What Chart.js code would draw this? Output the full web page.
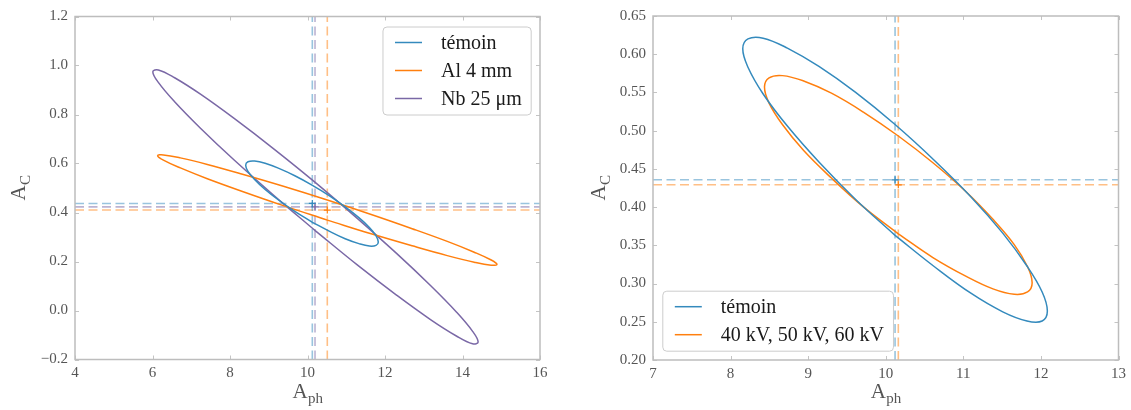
<!DOCTYPE html>
<html>
<head>
<meta charset="utf-8">
<script src="https://cdn.jsdelivr.net/npm/chart.js@4/dist/chart.umd.min.js"></script>
<style>
  html, body { margin: 0; padding: 0; background: #fff; }
  #wrap { position: relative; width: 1131px; height: 410px; }
  canvas { position: absolute; top: 0; }
</style>
</head>
<body>
<div id="wrap">
  <canvas id="left" width="565" height="410" style="left:0"></canvas>
  <canvas id="right" width="566" height="410" style="left:565px"></canvas>
</div>
<script>
// ---- left panel : témoin / Al 4 mm / Nb 25 µm ----
var labelsL = ['témoin', 'Al 4 mm', 'Nb 25 μm'];

var temoinL_x = [10.116, 9.673, 9.261, 8.906, 8.634, 8.463, 8.405, 8.463, 8.634, 8.906, 9.261, 9.673, 10.116, 10.559, 10.972, 11.326, 11.598, 11.769, 11.827, 11.769, 11.598, 11.326, 10.972, 10.559, 10.116];
var temoinL_y = [0.361, 0.405, 0.450, 0.494, 0.535, 0.568, 0.593, 0.607, 0.610, 0.601, 0.580, 0.550, 0.512, 0.469, 0.423, 0.379, 0.339, 0.305, 0.280, 0.266, 0.263, 0.273, 0.293, 0.324, 0.361];

var al_x = [10.511, 9.378, 8.322, 7.415, 6.719, 6.281, 6.132, 6.281, 6.719, 7.415, 8.322, 9.378, 10.511, 11.644, 12.701, 13.607, 14.303, 14.741, 14.890, 14.741, 14.303, 13.607, 12.701, 11.644, 10.511];
var al_y = [0.369, 0.428, 0.486, 0.538, 0.582, 0.614, 0.632, 0.635, 0.623, 0.596, 0.556, 0.507, 0.451, 0.392, 0.334, 0.282, 0.238, 0.206, 0.188, 0.185, 0.197, 0.224, 0.264, 0.313, 0.369];

var nb_x = [10.206, 9.120, 8.107, 7.238, 6.571, 6.151, 6.008, 6.151, 6.571, 7.238, 8.107, 9.120, 10.206, 11.292, 12.305, 13.174, 13.842, 14.261, 14.404, 14.261, 13.842, 13.174, 12.305, 11.292, 10.206];
var nb_y = [0.325, 0.471, 0.614, 0.744, 0.852, 0.931, 0.975, 0.982, 0.950, 0.883, 0.784, 0.661, 0.522, 0.375, 0.232, 0.102, -0.006, -0.085, -0.129, -0.136, -0.104, -0.037, 0.062, 0.185, 0.325];

// centres (témoin, Al, Nb)
var centreL_x = [10.124, 10.511, 10.194];
var centreL_y = [0.437, 0.410, 0.423];

var xRangeL = [4, 16];
var yRangeL = [-0.2, 1.2];
var xTicksL = [4, 6, 8, 10, 12, 14, 16];
var yTicksL = [-0.2, 0.0, 0.2, 0.4, 0.6, 0.8, 1.0, 1.2];
var yTickLabelsL = ['−0.2', '0.0', '0.2', '0.4', '0.6', '0.8', '1.0', '1.2'];

// ---- right panel : témoin / 40 kV, 50 kV, 60 kV ----
var labelsR = ['témoin', '40 kV, 50 kV, 60 kV'];

var temoinR_x = [10.120, 9.612, 9.139, 8.732, 8.420, 8.224, 8.157, 8.224, 8.420, 8.732, 9.139, 9.612, 10.120, 10.628, 11.102, 11.508, 11.820, 12.016, 12.083, 12.016, 11.820, 11.508, 11.102, 10.628, 10.120];
var temoinR_y = [0.363, 0.410, 0.459, 0.506, 0.548, 0.583, 0.607, 0.620, 0.621, 0.608, 0.584, 0.550, 0.508, 0.461, 0.413, 0.366, 0.323, 0.289, 0.264, 0.251, 0.251, 0.263, 0.287, 0.322, 0.363];

var kv_x = [10.162, 9.716, 9.300, 8.942, 8.668, 8.496, 8.437, 8.496, 8.668, 8.942, 9.300, 9.716, 10.162, 10.608, 11.025, 11.382, 11.656, 11.828, 11.887, 11.828, 11.656, 11.382, 11.025, 10.608, 10.162];
var kv_y = [0.365, 0.400, 0.438, 0.474, 0.508, 0.536, 0.557, 0.569, 0.572, 0.565, 0.549, 0.524, 0.493, 0.458, 0.421, 0.384, 0.351, 0.322, 0.301, 0.289, 0.286, 0.293, 0.310, 0.334, 0.365];

var centreR_x = [10.120, 10.162];
var centreR_y = [0.4357, 0.4292];

var xRangeR = [7, 13];
var yRangeR = [0.20, 0.65];
var xTicksR = [7, 8, 9, 10, 11, 12, 13];
var yTicksR = [0.20, 0.25, 0.30, 0.35, 0.40, 0.45, 0.50, 0.55, 0.60, 0.65];
var yTickLabelsR = ['0.20', '0.25', '0.30', '0.35', '0.40', '0.45', '0.50', '0.55', '0.60', '0.65'];

var BLUE = '#348abd', ORANGE = '#ff7f0e', PURPLE = '#7a68a6';
var FONT = "'Liberation Serif', 'DejaVu Serif', serif";

function pts(xs, ys) {
	return xs.map(function(x, i) { return {x: x, y: ys[i]}; });
}

function fade(hex, a) {
	var n = parseInt(hex.slice(1), 16);
	return 'rgba(' + (n >> 16) + ',' + ((n >> 8) & 255) + ',' + (n & 255) + ',' + a + ')';
}

function buildSets(curves, labels, colors, cx, cy, xr, yr) {
	var sets = [];
	for (var i = 0; i < curves.length; i++) {
		sets.push({
			label: labels[i], legendItem: true,
			data: pts(curves[i][0], curves[i][1]),
			showLine: true, tension: 0.4, borderColor: colors[i], borderWidth: 1.5,
			pointRadius: 0, fill: false
		});
	}
	for (var j = 0; j < cx.length; j++) {
		var dash = {showLine: true, borderColor: fade(colors[j], 0.5), borderWidth: 1.6,
			borderDash: [9, 4.5], pointRadius: 0, fill: false, tension: 0};
		sets.push(Object.assign({data: [{x: xr[0], y: cy[j]}, {x: xr[1], y: cy[j]}]}, dash));
		sets.push(Object.assign({data: [{x: cx[j], y: yr[0]}, {x: cx[j], y: yr[1]}]}, dash));
		sets.push({data: [{x: cx[j], y: cy[j]}], pointStyle: 'cross', pointRadius: 3.5,
			borderColor: colors[j], borderWidth: 1.2, showLine: false});
	}
	return sets;
}

// frame, inward ticks, axis titles with subscripts, legend inside the axes
var panelDeco = {
	id: 'panelDeco',
	afterDraw: function(chart, args, o) {
		var ctx = chart.ctx, a = chart.chartArea;
		var xs = chart.scales.x, ys = chart.scales.y;
		ctx.save();

		ctx.strokeStyle = '#c4c4c4';
		ctx.lineWidth = 1;
		ctx.beginPath();
		xs.ticks.forEach(function(t) {
			var p = Math.round(xs.getPixelForValue(t.value)) + 0.5;
			ctx.moveTo(p, a.bottom); ctx.lineTo(p, a.bottom - 4);
			ctx.moveTo(p, a.top); ctx.lineTo(p, a.top + 4);
		});
		ys.ticks.forEach(function(t) {
			var p = Math.round(ys.getPixelForValue(t.value)) + 0.5;
			ctx.moveTo(a.left, p); ctx.lineTo(a.left + 4, p);
			ctx.moveTo(a.right, p); ctx.lineTo(a.right - 4, p);
		});
		ctx.stroke();

		ctx.strokeStyle = '#bdbdbd';
		ctx.lineWidth = 1.5;
		ctx.strokeRect(a.left, a.top, a.right - a.left, a.bottom - a.top);

		// axis titles
		ctx.fillStyle = '#555';
		ctx.textBaseline = 'alphabetic';
		ctx.textAlign = 'left';
		function sub(main, s, cx, base) {
			ctx.font = '21px ' + FONT;
			var w1 = ctx.measureText(main).width;
			ctx.font = '15px ' + FONT;
			var w2 = ctx.measureText(s).width;
			var x0 = cx - (w1 + w2) / 2;
			ctx.font = '21px ' + FONT;
			ctx.fillText(main, x0, base);
			ctx.font = '15px ' + FONT;
			ctx.fillText(s, x0 + w1 + 0.5, base + 5);
		}
		sub(o.xTitle[0], o.xTitle[1], (a.left + a.right) / 2, o.xTitleBase);
		ctx.save();
		ctx.translate(o.yTitleBase, (a.top + a.bottom) / 2);
		ctx.rotate(-Math.PI / 2);
		sub(o.yTitle[0], o.yTitle[1], 0, 0);
		ctx.restore();

		// legend
		var items = chart.data.datasets.filter(function(d) { return d.legendItem; });
		ctx.font = '20px ' + FONT;
		var tw = 0;
		items.forEach(function(d) { tw = Math.max(tw, ctx.measureText(d.label).width); });
		var w = 58.5 + tw + 9, h = 32 + (items.length - 1) * 28;
		var bx = o.corner === 'tr' ? a.right - 9.3 - w : a.left + 9.3;
		var by = o.corner === 'tr' ? a.top + 10 : a.bottom - 9.3 - h;
		ctx.beginPath();
		ctx.roundRect(bx + 0.5, by + 0.5, w, h, 4);
		ctx.fillStyle = 'rgba(255,255,255,0.85)';
		ctx.fill();
		ctx.strokeStyle = '#cccccc';
		ctx.lineWidth = 1;
		ctx.stroke();
		ctx.textBaseline = 'middle';
		items.forEach(function(d, i) {
			var ry = by + 16 + i * 28;
			ctx.strokeStyle = d.borderColor;
			ctx.lineWidth = 1.5;
			ctx.beginPath();
			ctx.moveTo(bx + 12.5, ry); ctx.lineTo(bx + 39.5, ry);
			ctx.stroke();
			ctx.fillStyle = '#1a1a1a';
			ctx.fillText(d.label, bx + 58.5, ry + 1);
		});
		ctx.restore();
	}
};

function panel(id, sets, xr, yr, xt, yt, ytl, pad, yW, xH, deco) {
	var ctx = document.getElementById(id).getContext('2d');
	return new Chart(ctx, {
		type: 'scatter',
		data: {datasets: sets},
		plugins: [panelDeco],
		options: {
			responsive: false,
			animation: false,
			layout: {padding: pad},
			plugins: {legend: {display: false}, tooltip: {enabled: false}, panelDeco: deco},
			scales: {
				x: {
					type: 'linear', min: xr[0], max: xr[1],
					afterBuildTicks: function(s) { s.ticks = xt.map(function(v) { return {value: v}; }); },
					afterFit: function(s) { s.height = xH; },
					grid: {display: false, drawTicks: false},
					border: {display: false},
					ticks: {autoSkip: false, maxRotation: 0, padding: 5, color: '#555',
						font: {family: FONT, size: 15},
						callback: function(v) { return String(v); }}
				},
				y: {
					type: 'linear', min: yr[0], max: yr[1],
					afterBuildTicks: function(s) { s.ticks = yt.map(function(v) { return {value: v}; }); },
					afterFit: function(s) { s.width = yW; },
					grid: {display: false, drawTicks: false},
					border: {display: false},
					ticks: {autoSkip: false, padding: 7, color: '#555',
						font: {family: FONT, size: 15},
						callback: function(v, i) { return ytl[i]; }}
				}
			}
		}
	});
}

panel('left',
	buildSets([[temoinL_x, temoinL_y], [al_x, al_y], [nb_x, nb_y]], labelsL,
		[BLUE, ORANGE, PURPLE], centreL_x, centreL_y, xRangeL, yRangeL),
	xRangeL, yRangeL, xTicksL, yTicksL, yTickLabelsL,
	{top: 16.5, right: 25, left: 0, bottom: 0}, 75, 50.5,
	{xTitle: ['A', 'ph'], yTitle: ['A', 'C'], xTitleBase: 398, yTitleBase: 25, corner: 'tr'});

panel('right',
	buildSets([[temoinR_x, temoinR_y], [kv_x, kv_y]], labelsR,
		[BLUE, ORANGE], centreR_x, centreR_y, xRangeR, yRangeR),
	xRangeR, yRangeR, xTicksR, yTicksR, yTickLabelsR,
	{top: 15, right: 11, left: 0, bottom: 0}, 88, 50,
	{xTitle: ['A', 'ph'], yTitle: ['A', 'C'], xTitleBase: 398, yTitleBase: 40, corner: 'bl'});
</script>
</body>
</html>
